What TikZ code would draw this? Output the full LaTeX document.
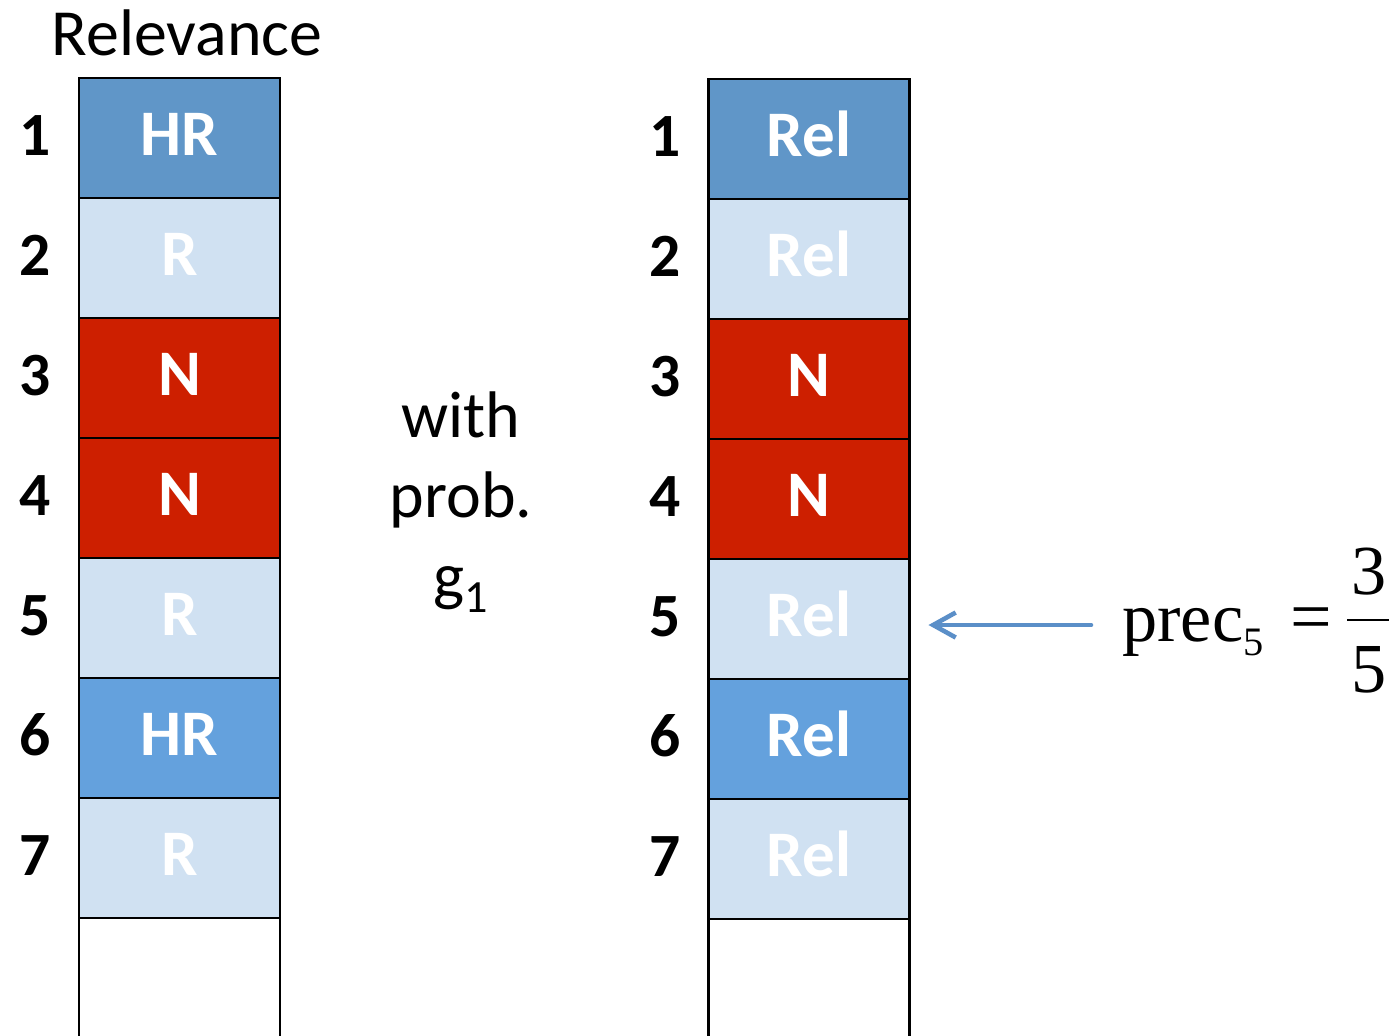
\documentclass[tikz,border=0pt]{standalone}
\usepackage{fontspec}
\setmainfont{Carlito}
\newfontfamily\timesfont{Liberation Serif}
\usetikzlibrary{arrows.meta}
\definecolor{dkblue}{HTML}{6096C8}
\definecolor{mdblue}{HTML}{64A1DD}
\definecolor{ltblue}{HTML}{D0E1F2}
\definecolor{nred}{HTML}{CD1F00}
\definecolor{arrblue}{HTML}{5B8FC8}
\begin{document}
\begin{tikzpicture}[x=0.02cm,y=-0.02cm,
	cell/.style={draw,line width=1.3pt,minimum width=4.02cm,minimum height=2.4cm,inner sep=0pt,outer sep=0pt,text height=0.84cm,text depth=0.16cm,text=white,font=\fontsize{37}{40}\selectfont\bfseries},
	rank/.style={anchor=base,font=\fontsize{35}{40}\selectfont\bfseries},
	big/.style={anchor=base,font=\fontsize{37.5}{40}\selectfont}]
	\useasboundingbox (0,0) rectangle (1392,1035);
	% left list
	\node[big] (rel) at (187,55) {Relevance};
	\foreach \i/\c/\t in {1/dkblue/HR,2/ltblue/R,3/nred/N,4/nred/N,5/ltblue/R,6/mdblue/HR,7/ltblue/R}{
		\node[cell,fill=\c] (L\i) at (179.5,{18+120*\i}) {\t};
		\node[rank] (l\i) at (35,{35+120*\i}) {\i};
	}
	\draw[line width=1.3pt] (L7.south west) -- +(0,120) (L7.south east) -- +(0,120);
	% middle text
	\node[big] (with) at (461,437) {with};
	\node[big] (prob) at (461,517) {prob.};
	\node[big] (g1) at (461,598) {g\textsubscript{1}};
	% right list
	\foreach \i/\c in {1/dkblue,2/ltblue,3/nred,4/nred,5/ltblue,6/mdblue,7/ltblue}{
		\ifnum\i>2 \ifnum\i<5 \def\t{N}\else\def\t{Rel}\fi \else\def\t{Rel}\fi
		\node[cell,fill=\c] (R\i) at (809,{19+120*\i}) {\t};
		\node[rank] (r\i) at (665,{36+120*\i}) {\i};
	}
	\draw[line width=1.3pt] (R7.south west) -- +(0,120) (R7.south east) -- +(0,120);
	% precision
	\node[anchor=base west,inner sep=0pt,font=\timesfont\fontsize{40}{48}\selectfont] (prec) at (1122,641) {prec\raisebox{-0.28cm}{\fontsize{23}{26}\selectfont 5}};
	\node[anchor=base,inner sep=0pt,font=\timesfont\fontsize{42}{48}\selectfont] (eq) at (1311,641) {=};
	\node[font=\timesfont\fontsize{40}{48}\selectfont] (num) at (1369,572) {3};
	\node[font=\timesfont\fontsize{40}{48}\selectfont] (den) at (1369,670) {5};
	\draw[line width=1pt] (1347,620) -- (1389,620);
	\coordinate (tip) at ([xshift=0.38cm,yshift=-0.12cm]R5.east);
	\draw[-{Straight Barb[length=0.45cm,width=0.5cm]},arrblue,line width=2.6pt,line cap=round] (tip -| prec.west) ++(-31,0) -- (tip);
\end{tikzpicture}
\end{document}
